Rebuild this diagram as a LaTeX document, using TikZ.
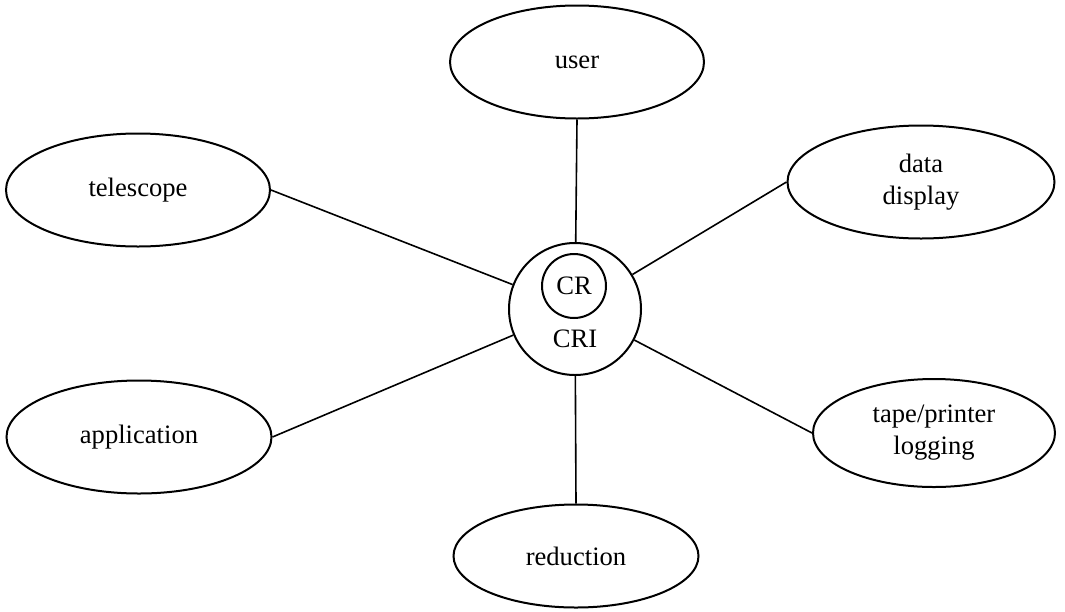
\documentclass[tikz,border=0pt]{standalone}
\usepackage{fontspec}
\setmainfont{Liberation Serif}
\usetikzlibrary{shapes.geometric}

\begin{document}
\begin{tikzpicture}[
  x=0.5pt, y=-0.5pt,
  font=\fontsize{13.3}{16}\selectfont,
  unit/.style={draw, ellipse, line width=1pt, align=center, inner sep=0pt},
  hub/.style={draw, circle, line width=1pt, inner sep=0pt},
  link/.style={line width=0.8pt}
]
\useasboundingbox (0,0) rectangle (1065,611);
% central interface
\node[hub, minimum size=66pt] (cri) at (575,309) {};
\node[hub, minimum size=32pt] (cr) at (574,286) {CR};
\node (crilab) at (575,339) {CRI};
% surrounding units
\node[unit, minimum width=127pt, minimum height=56.5pt] (user) at (577,62) {user};
\node[unit, minimum width=132pt, minimum height=56.5pt] (tel) at (138,190) {telescope};
\node[unit, minimum width=133.5pt, minimum height=56.5pt] (disp) at (921,182) {data\\display};
\node[unit, minimum width=132.5pt, minimum height=56.5pt] (appl) at (139,437) {application};
\node[unit, minimum width=121pt, minimum height=54pt] (tape) at (934,433) {tape/printer\\logging};
\node[unit, minimum width=122.5pt, minimum height=51.5pt] (red) at (576,556) {reduction};
% connections
\draw[link] (user.south) -- (cri);
\draw[link] (tel.east) -- (cri);
\draw[link] (disp.west) -- (cri);
\draw[link] (appl.east) -- (cri);
\draw[link] (tape.west) -- (cri);
\draw[link] (red.north) -- (cri);
\end{tikzpicture}
\end{document}
